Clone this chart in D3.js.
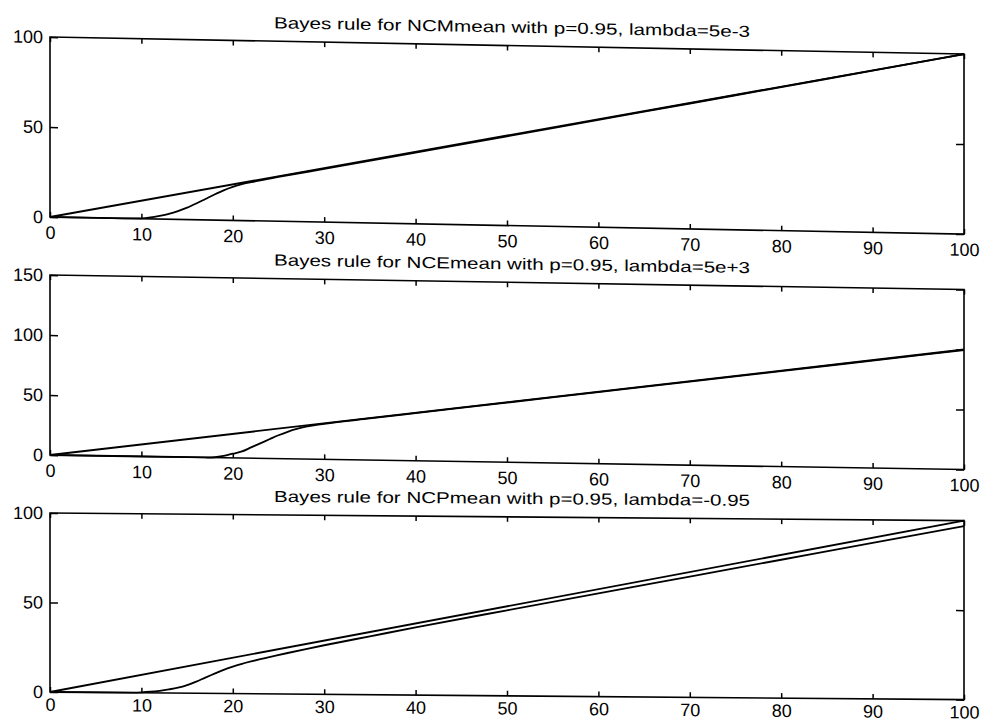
<!DOCTYPE html>
<html>
<head>
<meta charset="utf-8">
<script src="https://cdn.jsdelivr.net/npm/d3@7"></script>
<style>
  body { margin: 0; background: #fff; }
  text { font-family: "Liberation Sans", Arial, sans-serif; fill: #000; }
</style>
</head>
<body>
<div id="chart"></div>
<script>
// titles of the three subplots
var titles = [
    'Bayes rule for NCMmean with p=0.95, lambda=5e-3',
    'Bayes rule for NCEmean with p=0.95, lambda=5e+3',
    'Bayes rule for NCPmean with p=0.95, lambda=-0.95'
];

// tick labels
var xTicks = [0, 10, 20, 30, 40, 50, 60, 70, 80, 90, 100];
var yTicks1 = [0, 50, 100];
var yTicks2 = [0, 50, 100, 150];
var yTicks3 = [0, 50, 100];
var yMax = [100, 150, 100];

// identity line (same in all panels)
var idX = [0, 100];
var idY = [0, 100];

// Bayes rule curves
var ncmX = [0, 8, 10, 11, 12, 13, 14, 15, 16, 17, 18, 19, 20, 21, 22, 25, 30, 40, 50, 60, 70, 80, 90, 100];
var ncmY = [0, 0, 0.2, 0.8, 1.8, 3, 4.6, 6.6, 9, 11.6, 14.2, 16.6, 18.6, 20.2, 21.4, 24.6, 29.6, 39.6, 49.6, 59.7, 69.7, 79.8, 89.8, 100];

var nceX = [0, 17, 18, 19, 20, 21, 22, 23, 24, 25, 26, 27, 28, 29, 30, 35, 40, 50, 60, 70, 80, 90, 100];
var nceY = [0, 0, 0.3, 1.5, 3.5, 5.5, 9, 12.5, 16, 19.5, 22.5, 25, 27, 28.4, 29.6, 34.7, 39.7, 49.7, 59.7, 69.7, 79.6, 89.6, 99.6];

var ncpX = [0, 9, 10, 11, 12, 13, 14, 15, 16, 17, 18, 19, 20, 21, 22, 23, 24, 26, 28, 30, 35, 40, 50, 60, 70, 80, 90, 100];
var ncpY = [0, 0, 0.2, 0.6, 1.2, 2, 3, 4.5, 6.5, 8.8, 11, 13.2, 15, 16.6, 18, 19.3, 20.5, 22.9, 25.2, 27.4, 32.6, 37.8, 47.8, 57.7, 67.5, 77.3, 87.1, 97];

window.onload = function () {

    const W = 982, H = 723;
    const left = 50, plotW = 914;
    // panel placement (the scan is slightly sheared, so each panel gets a skewY)
    var panels = [
        { top: 37,  h: 180, skew: 1.07, pad: 9, yt: yTicks1, curve: [ncmX, ncmY] },
        { top: 275, h: 180, skew: 0.91, pad: 9, yt: yTicks2, curve: [nceX, nceY] },
        { top: 513, h: 179, skew: 0.48, pad: 6, yt: yTicks3, curve: [ncpX, ncpY] }
    ];

    var svg = d3.select('#chart').append('svg')
        .attr('width', W).attr('height', H);

    panels.forEach(function (p, k) {
        var g = svg.append('g')
            .attr('transform', 'translate(' + left + ',' + p.top + ') skewY(' + p.skew + ')');

        var x = d3.scaleLinear().domain([0, 100]).range([0, plotW]);
        var y = d3.scaleLinear().domain([0, yMax[k]]).range([p.h, 0]);

        // A X E S  (MATLAB style, ticks pointing in)
        var ax = [
            g.append('g').attr('transform', 'translate(0,' + p.h + ')')
                .call(d3.axisBottom(x).tickValues(xTicks).tickSizeInner(-5).tickSizeOuter(0).tickPadding(p.pad)),
            g.append('g')
                .call(d3.axisTop(x).tickValues(xTicks).tickSizeInner(-5).tickSizeOuter(0).tickFormat('')),
            g.append('g')
                .call(d3.axisLeft(y).tickValues(p.yt).tickSizeInner(-8).tickSizeOuter(0).tickPadding(7)),
            g.append('g').attr('transform', 'translate(' + plotW + ',0)')
                .call(d3.axisRight(y).tickValues(p.yt).tickSizeInner(-8).tickSizeOuter(0).tickFormat(''))
        ];
        ax.forEach(function (a) {
            a.select('.domain').remove();
            a.selectAll('line').attr('stroke', '#000').attr('stroke-width', 1.5);
            a.selectAll('text').style('font-size', '18px').attr('fill', '#000');
        });

        g.append('rect')
            .attr('x', 0).attr('y', 0).attr('width', plotW).attr('height', p.h)
            .attr('fill', 'none').attr('stroke', '#000').attr('stroke-width', 1.6);

        // L I N E S
        var line = d3.line()
            .x(function (d) { return x(d[0]); })
            .y(function (d) { return y(d[1]); })
            .curve(d3.curveMonotoneX);

        var series = [d3.zip(idX, idY), d3.zip(p.curve[0], p.curve[1])];
        g.selectAll('path.series').data(series).enter().append('path')
            .attr('class', 'series')
            .attr('d', line)
            .attr('fill', 'none')
            .attr('stroke', '#000')
            .attr('stroke-width', 1.8);

        // T I T L E
        g.append('text')
            .attr('x', x(50) + 5)
            .attr('y', -13)
            .attr('text-anchor', 'middle')
            .attr('textLength', 476)
            .attr('lengthAdjust', 'spacingAndGlyphs')
            .style('font-size', '16px')
            .text(titles[k]);
    });
};
</script>
</body>
</html>
